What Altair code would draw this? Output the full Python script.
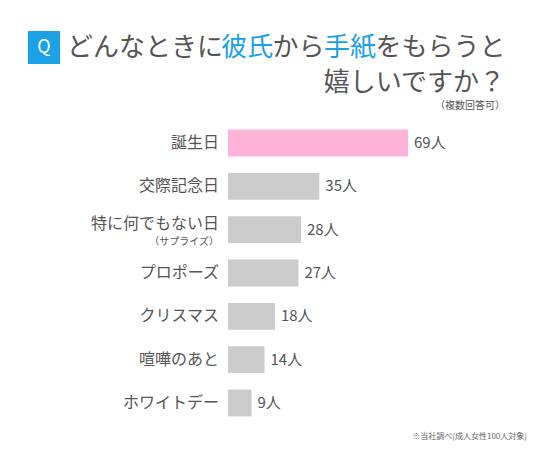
import altair as alt
import pandas as pd

categories = ["誕生日", "交際記念日", "特に何でもない日", "プロポーズ", "クリスマス", "喧嘩のあと", "ホワイトデー"]
sublabels = ["", "", "（サプライズ）", "", "", "", ""]
values = [69, 35, 28, 27, 18, 14, 9]
value_labels = [f"{v}人" for v in values]
highlight = [True, False, False, False, False, False, False]

df = pd.DataFrame({
    "cat": categories,
    "sub": sublabels,
    "val": values,
    "lab": value_labels,
    "hl": highlight,
})

FONT = "Noto Sans CJK JP"
GRAY_TXT = "#555555"
BLUE = "#1ba1e6"

xscale = alt.Scale(domain=[0, 69], range=[220, 400])
yscale = alt.Scale(domain=categories, range=[113.3, 416.7], paddingInner=0.38, paddingOuter=0.19)

base = alt.Chart(df)

bars = base.mark_bar().encode(
    x=alt.X("val:Q", scale=xscale, axis=None),
    x2=alt.value(220),
    y=alt.Y("cat:N", scale=yscale, axis=None, sort=categories),
    color=alt.Color("hl:N", scale=alt.Scale(domain=[True, False], range=["#ffb3d9", "#cccccc"]), legend=None),
)

vals = base.mark_text(align="left", baseline="middle", dx=6, font=FONT, fontSize=15, color=GRAY_TXT).encode(
    x=alt.X("val:Q", scale=xscale, axis=None),
    y=alt.Y("cat:N", scale=yscale, axis=None, sort=categories),
    text="lab:N",
)

cat_main = base.transform_filter("datum.sub == ''").mark_text(
    align="right", baseline="middle", font=FONT, fontSize=16, color=GRAY_TXT
).encode(
    x=alt.value(211),
    y=alt.Y("cat:N", scale=yscale, axis=None, sort=categories),
    text="cat:N",
)

cat_sub_main = base.transform_filter("datum.sub != ''").mark_text(
    align="right", baseline="middle", dy=-6, font=FONT, fontSize=16, color=GRAY_TXT
).encode(
    x=alt.value(211),
    y=alt.Y("cat:N", scale=yscale, axis=None, sort=categories),
    text="cat:N",
)

cat_sub = base.transform_filter("datum.sub != ''").mark_text(
    align="right", baseline="middle", dy=12, font=FONT, fontSize=10, color=GRAY_TXT
).encode(
    x=alt.value(211),
    y=alt.Y("cat:N", scale=yscale, axis=None, sort=categories),
    text="sub:N",
)

one = pd.DataFrame({"a": [0]})
ob = alt.Chart(one)

qbox = ob.mark_rect(color=BLUE).encode(x=alt.value(20), x2=alt.value(52), y=alt.value(23), y2=alt.value(56))
qtxt = ob.mark_text(text="Q", font=FONT, fontSize=18, color="white", align="center", baseline="middle").encode(
    x=alt.value(36), y=alt.value(39.5))

title_segments = [("どんなときに", GRAY_TXT), ("彼氏", BLUE), ("から", GRAY_TXT), ("手紙", BLUE), ("をもらうと", GRAY_TXT)]
title_layers = []
cx = 59
CH = 25.7
for seg, col in title_segments:
    title_layers.append(
        ob.mark_text(text=seg, font=FONT, fontSize=26, color=col, align="left", baseline="middle").encode(
            x=alt.value(cx), y=alt.value(40))
    )
    cx += CH * len(seg)

line2 = ob.mark_text(text="嬉しいですか？", font=FONT, fontSize=26, color=GRAY_TXT, align="right", baseline="middle").encode(
    x=alt.value(497), y=alt.value(75))
note = ob.mark_text(text="（複数回答可）", font=FONT, fontSize=10, color=GRAY_TXT, align="right", baseline="middle").encode(
    x=alt.value(497), y=alt.value(98))
footer = ob.mark_text(text="※当社調べ(成人女性100人対象)", font=FONT, fontSize=8, color="#666666", align="right", baseline="middle").encode(
    x=alt.value(519), y=alt.value(429))

chart = alt.layer(
    bars, vals, cat_main, cat_sub_main, cat_sub, qbox, qtxt, *title_layers, line2, note, footer
).properties(
    width=520, height=434, autosize=alt.AutoSizeParams(type="none"), padding=0
).configure_view(strokeWidth=0, stroke="transparent")

chart.save("out.html", embed_options={"renderer": "svg", "actions": False})
